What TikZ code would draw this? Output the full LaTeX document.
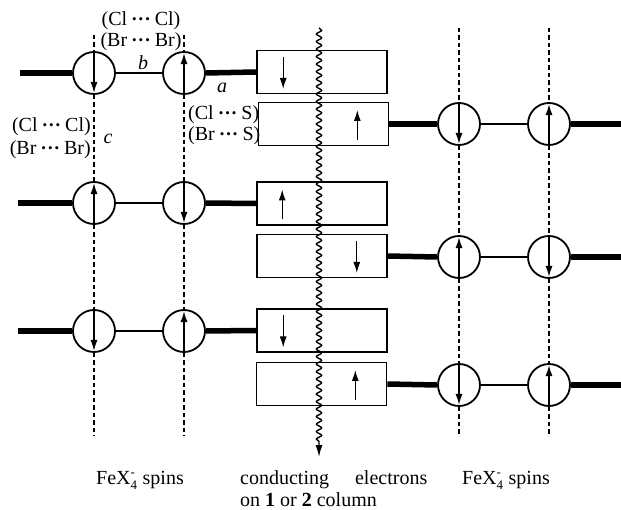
\documentclass[tikz,border=0pt]{standalone}
\usepackage{fontspec}
\setmainfont{Liberation Serif}
\usetikzlibrary{decorations.pathmorphing,arrows.meta}
\newcommand\dts{ \raisebox{2pt}{\fontsize{13}{13}\selectfont •\kern2pt•\kern2pt•} }
\newcommand\fex{FeX$_{\hbox{\fontsize{13}{13}\selectfont 4}}^{\hbox{\fontsize{13}{13}\selectfont -}}$}
\tikzset{
 spin/.style={circle, draw, line width=1.8pt, fill=white, minimum size=42pt, inner sep=0pt},
 cbox/.style={rectangle, draw, line width=1.6pt, minimum width=130pt, minimum height=43pt, inner sep=0pt},
 thickbond/.style={line width=5.5pt},
 thinbond/.style={line width=1.5pt},
 col/.style={line width=2pt, dash pattern=on 4.5pt off 3pt},
 sarr/.style={line width=1.3pt, -{Latex[length=11pt,width=7pt]}},
 lbl/.style={font=\fontsize{20}{23}\selectfont, inner sep=0pt},
}
\begin{document}
\begin{tikzpicture}[x=1pt,y=-1pt]
\useasboundingbox (0,0) rectangle (621,510);
% columns top/bottom coordinates
\coordinate (cL1t) at (94,35);  \coordinate (cL1b) at (94,436);
\coordinate (cL2t) at (184,35); \coordinate (cL2b) at (184,436);
\coordinate (cR1t) at (459,28); \coordinate (cR1b) at (459,436);
\coordinate (cR2t) at (549,28); \coordinate (cR2b) at (549,436);
% spins left
\node[spin] (L11) at (94,73) {};  \node[spin] (L12) at (184,73) {};
\node[spin] (L21) at (94,203) {}; \node[spin] (L22) at (184,203) {};
\node[spin] (L31) at (94,331) {}; \node[spin] (L32) at (184,331) {};
% spins right
\node[spin] (R11) at (459,124) {}; \node[spin] (R12) at (549,124) {};
\node[spin] (R21) at (459,257) {}; \node[spin] (R22) at (549,257) {};
\node[spin] (R31) at (459,385) {}; \node[spin] (R32) at (549,385) {};
% boxes
\node[cbox] (B1) at (322,72) {};
\node[cbox] (B2) at (323.5,124) {};
\node[cbox] (B3) at (322,203.5) {};
\node[cbox] (B4) at (322,256) {};
\node[cbox] (B5) at (322,330.5) {};
\node[cbox] (B6) at (321.5,384) {};
% dashed columns
\draw[col] (cL1t) -- (L11.north); \draw[col] (L11.south) -- (L21.north);
\draw[col] (L21.south) -- (L31.north); \draw[col] (L31.south) -- (cL1b);
\draw[col] (cL2t) -- (L12.north); \draw[col] (L12.south) -- (L22.north);
\draw[col] (L22.south) -- (L32.north); \draw[col] (L32.south) -- (cL2b);
\draw[col] (cR1t) -- (R11.north); \draw[col] (R11.south) -- (R21.north);
\draw[col] (R21.south) -- (R31.north); \draw[col] (R31.south) -- (cR1b);
\draw[col] (cR2t) -- (R12.north); \draw[col] (R12.south) -- (R22.north);
\draw[col] (R22.south) -- (R32.north); \draw[col] (R32.south) -- (cR2b);
% bonds left
\coordinate (LE1) at (20,73); \coordinate (LE2) at (18,203); \coordinate (LE3) at (18,331);
\draw[thickbond] (LE1) -- (L11.west); \draw[thinbond] (L11.east) -- (L12.west); \draw[thickbond] (L12.east) -- (B1.west);
\draw[thickbond] (LE2) -- (L21.west); \draw[thinbond] (L21.east) -- (L22.west); \draw[thickbond] (L22.east) -- (B3.west);
\draw[thickbond] (LE3) -- (L31.west); \draw[thinbond] (L31.east) -- (L32.west); \draw[thickbond] (L32.east) -- (B5.west);
% bonds right
\coordinate (RE1) at (621,124); \coordinate (RE2) at (621,257); \coordinate (RE3) at (621,385);
\draw[thickbond] (B2.east) -- (R11.west); \draw[thinbond] (R11.east) -- (R12.west); \draw[thickbond] (R12.east) -- (RE1);
\draw[thickbond] (B4.east) -- (R21.west); \draw[thinbond] (R21.east) -- (R22.west); \draw[thickbond] (R22.east) -- (RE2);
\draw[thickbond] (B6.east) -- (R31.west); \draw[thinbond] (R31.east) -- (R32.west); \draw[thickbond] (R32.east) -- (RE3);
% spin arrows in circles (down: north->south, up: south->north)
\foreach \n in {L11,L22,L31,R11,R22,R31}
  \draw[sarr] ([yshift=-1pt]\n.north) -- ([yshift=2pt]\n.south);
\foreach \n in {L12,L21,L32,R12,R21,R32}
  \draw[sarr] ([yshift=1pt]\n.south) -- ([yshift=-2pt]\n.north);
% box arrows
\draw[sarr] ([xshift=27pt,yshift=15pt]B1.west) -- ([xshift=27pt,yshift=-17pt]B1.west);
\draw[sarr] ([xshift=-32pt,yshift=-16pt]B2.east) -- ([xshift=-32pt,yshift=14pt]B2.east);
\draw[sarr] ([xshift=26pt,yshift=-16pt]B3.west) -- ([xshift=26pt,yshift=14pt]B3.west);
\draw[sarr] ([xshift=-31pt,yshift=15pt]B4.east) -- ([xshift=-31pt,yshift=-17pt]B4.east);
\draw[sarr] ([xshift=27pt,yshift=15pt]B5.west) -- ([xshift=27pt,yshift=-17pt]B5.west);
\draw[sarr] ([xshift=-32pt,yshift=-16pt]B6.east) -- ([xshift=-32pt,yshift=14pt]B6.east);
% wavy conduction line
\coordinate (wt) at (319,28); \coordinate (wb) at (319,457);
\draw[line width=1.4pt, decorate, decoration={snake, amplitude=2.6pt, segment length=7.5pt, post length=12pt}, -{Latex[length=12pt,width=7pt]}] (wt) -- (wb);
% labels
\node[lbl] (t1) at (141,21) {(Cl\dts Cl)};
\node[lbl] (t2) at (141,42) {(Br\dts Br)};
\node[lbl] (lb) at (143,63) {\textit{b}};
\node[lbl] (la) at (222,88) {\textit{a}};
\node[lbl] (lc) at (108,139) {\textit{c}};
\node[lbl, anchor=east] (l1) at (91,127) {(Cl\dts Cl)};
\node[lbl, anchor=east] (l2) at (91,150) {(Br\dts Br)};
\node[lbl, anchor=west] (s1) at (188,115) {(Cl\dts S)};
\node[lbl, anchor=west] (s2) at (188,136) {(Br\dts S)};
\node[lbl] (fl) at (140,480) {\fex\ spins};
\node[lbl] (fr) at (506,480) {\fex\ spins};
\node[lbl, anchor=west] (ce) at (240,480) {conducting\hspace{26pt}electrons};
\node[lbl, anchor=west] (oc) at (240,500) {on \textbf{1} or \textbf{2} column};
\end{tikzpicture}
\end{document}
